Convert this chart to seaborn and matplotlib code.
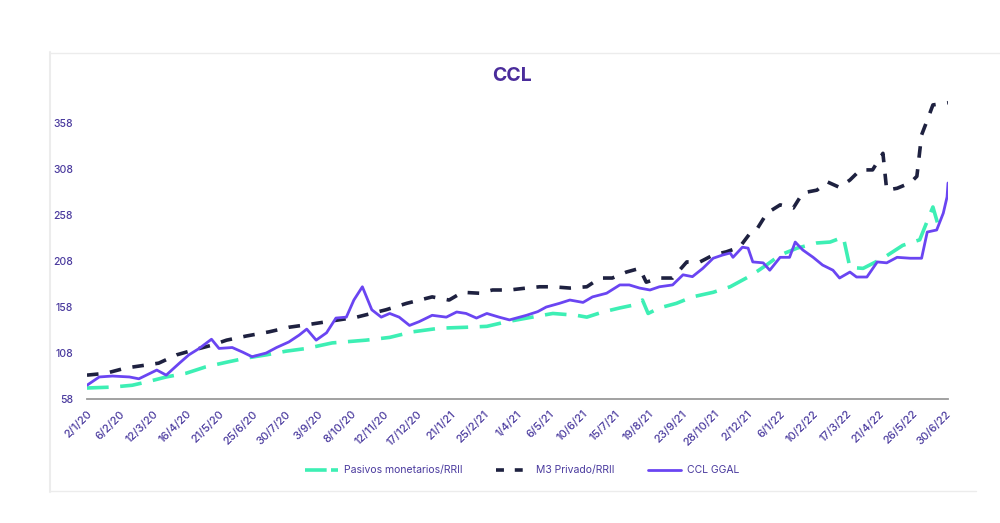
import matplotlib
matplotlib.use("Agg")
import matplotlib.pyplot as plt
from matplotlib.lines import Line2D
import pandas as pd
import seaborn as sns

# ---------------- data ----------------
ccl_dates = ["2020-01-02","2020-01-15","2020-01-29","2020-02-16","2020-02-26","2020-03-05",
             "2020-03-16","2020-03-26","2020-04-09","2020-04-19","2020-04-30","2020-05-13",
             "2020-05-21","2020-06-04","2020-06-15","2020-06-25","2020-07-10","2020-07-21",
             "2020-08-03","2020-08-14","2020-08-22","2020-09-01","2020-09-12","2020-09-22",
             "2020-10-03","2020-10-11","2020-10-20","2020-10-30","2020-11-09","2020-11-18",
             "2020-11-28","2020-12-09","2020-12-19","2021-01-02","2021-01-17","2021-01-28",
             "2021-02-07","2021-02-18","2021-03-01","2021-03-14","2021-03-25","2021-04-12",
             "2021-04-24","2021-05-03","2021-05-17","2021-05-28","2021-06-11","2021-06-21",
             "2021-07-06","2021-07-20","2021-07-30","2021-08-10","2021-08-21","2021-08-31",
             "2021-09-14","2021-09-25","2021-10-05","2021-10-16","2021-10-27","2021-11-06",
             "2021-11-14","2021-11-17","2021-11-27","2021-12-03","2021-12-08","2021-12-19",
             "2021-12-26","2022-01-06","2022-01-16","2022-01-22","2022-01-30","2022-02-10",
             "2022-02-20","2022-03-03","2022-03-10","2022-03-21","2022-03-28","2022-04-08",
             "2022-04-19","2022-04-29","2022-05-10","2022-05-24","2022-06-05","2022-06-11",
             "2022-06-21","2022-06-28","2022-07-02","2022-07-03"]
ccl_values = [73, 82, 83, 82, 80, 84,
              89.5, 84, 97, 106, 113, 123,
              113, 114, 109, 104, 108, 114,
              120, 127.5, 134, 122, 130, 146,
              147, 165.6, 180, 155, 147, 151,
              147, 138, 142, 149, 147, 152.6,
              151, 146, 151, 147, 144, 149,
              153, 158, 162, 165.6, 163, 169,
              173, 182, 182, 178.6, 176.5, 180,
              182, 193, 191, 200, 211, 214.5,
              216.7, 212, 223, 222, 207, 206,
              198, 212, 212, 228.6, 220, 212,
              203.6, 198, 189.5, 196, 190.6, 190.6,
              207, 206, 212, 211, 211, 239.5,
              241.7, 260, 277.6, 292.8]

pas_dates = ["2020-01-02","2020-01-29","2020-02-19","2020-03-05","2020-03-26","2020-04-16",
             "2020-05-07","2020-05-29","2020-06-19","2020-07-10","2020-07-31","2020-08-22",
             "2020-09-18","2020-10-24","2020-11-18","2020-12-12","2021-01-10","2021-02-07",
             "2021-03-01","2021-03-22","2021-04-18","2021-05-10","2021-06-04","2021-06-15",
             "2021-07-02","2021-07-20","2021-08-03","2021-08-13","2021-08-19","2021-08-31",
             "2021-09-18","2021-10-05","2021-10-27","2021-11-14","2021-12-02","2021-12-13",
             "2021-12-23","2022-01-06","2022-01-24","2022-02-14","2022-02-28","2022-03-14",
             "2022-03-21","2022-04-04","2022-04-25","2022-05-16","2022-06-03","2022-06-17",
             "2022-06-22","2022-06-30"]
pas_values = [70, 71, 73, 76.5, 82, 86,
              93, 98, 102.6, 106, 110, 113,
              119, 122, 125, 131, 135, 136,
              137, 142, 147, 151, 149, 147,
              152.6, 157, 160, 165.6, 151, 157,
              162, 169, 174, 180, 190, 197,
              204, 214.5, 222, 227.6, 228.6, 234,
              201, 200, 211, 225, 231, 266.7,
              249, 256]

m3_dates = ["2020-01-02","2020-01-22","2020-02-12","2020-03-05","2020-03-18","2020-04-06",
            "2020-04-23","2020-05-14","2020-05-29","2020-06-19","2020-07-13","2020-08-03",
            "2020-08-24","2020-09-12","2020-10-14","2020-11-14","2020-12-06","2021-01-02",
            "2021-01-20","2021-02-03","2021-02-21","2021-03-07","2021-03-25","2021-04-12",
            "2021-04-26","2021-05-10","2021-05-28","2021-06-15","2021-06-29","2021-07-12",
            "2021-07-27","2021-08-10","2021-08-17","2021-08-31","2021-09-14","2021-09-29",
            "2021-10-13","2021-10-27","2021-11-10","2021-11-24","2021-12-05","2021-12-12",
            "2021-12-23","2022-01-06","2022-01-20","2022-01-30","2022-02-14","2022-02-25",
            "2022-03-10","2022-03-21","2022-04-01","2022-04-14","2022-04-25","2022-04-29",
            "2022-05-10","2022-05-24","2022-05-31","2022-06-05","2022-06-11","2022-06-17",
            "2022-07-03"]
m3_values = [84, 86, 91.7, 95, 97, 106,
             111, 116.7, 122, 126.5, 131, 136,
             139, 142, 147, 155, 162, 169,
             165.6, 174, 173, 176.5, 176.5, 178.6,
             180, 180, 178.6, 180, 189.5, 189.5,
             196, 200, 185, 189.5, 189.5, 207,
             207, 214.5, 218, 223, 238, 242,
             260, 269, 265.6, 282, 285, 294,
             288, 296, 307, 307, 325, 285,
             287, 293, 300, 345, 361, 377.6,
             380]

tick_dates = ["2020-01-02","2020-02-06","2020-03-12","2020-04-16","2020-05-21","2020-06-25",
              "2020-07-30","2020-09-03","2020-10-08","2020-11-12","2020-12-17","2021-01-21",
              "2021-02-25","2021-04-01","2021-05-06","2021-06-10","2021-07-15","2021-08-19",
              "2021-09-23","2021-10-28","2021-12-02","2022-01-06","2022-02-10","2022-03-17",
              "2022-04-21","2022-05-26","2022-06-30"]
y_ticks = [58, 108, 158, 208, 258, 308, 358]

series_labels = ["Pasivos monetarios/RRII", "M3 Privado/RRII", "CCL GGAL"]
title_text = "CCL"

# ---------------- styling ----------------
sns.set_theme(style="white")
plt.rcParams["font.family"] = ["Inter", "DejaVu Sans"]

c_green = "#3DEFB4"
c_navy = "#1E2140"
c_purple = "#6A45F2"
c_text = "#4A3A9E"

df_ccl = pd.DataFrame({"date": pd.to_datetime(ccl_dates), "value": ccl_values})
df_pas = pd.DataFrame({"date": pd.to_datetime(pas_dates), "value": pas_values})
df_m3 = pd.DataFrame({"date": pd.to_datetime(m3_dates), "value": m3_values})

fig = plt.figure(figsize=(10, 5.23), dpi=100)
fig.patch.set_facecolor("white")
ax = fig.add_axes([0.087, 0.237, 0.861, 0.593])

sns.lineplot(data=df_pas, x="date", y="value", ax=ax, color=c_green, linewidth=2.6,
             label=series_labels[0])
ax.lines[-1].set_dashes((6, 3.2))
sns.lineplot(data=df_m3, x="date", y="value", ax=ax, color=c_navy, linewidth=2.6,
             label=series_labels[1])
ax.lines[-1].set_dashes((3.2, 3.2))
sns.lineplot(data=df_ccl, x="date", y="value", ax=ax, color=c_purple, linewidth=2.0,
             label=series_labels[2])

ax.set_xlim(pd.Timestamp("2020-01-02"), pd.Timestamp("2022-07-03"))
ax.set_ylim(58, 395)
ax.set_xlabel("")
ax.set_ylabel("")

ticks = pd.to_datetime(tick_dates)
ax.set_xticks(ticks)
ax.set_xticklabels([f"{d.day}/{d.month}/{d.year % 100}" for d in ticks],
                   rotation=45, ha="right", rotation_mode="anchor",
                   fontsize=8, color=c_text, fontweight="medium")
ax.set_yticks(y_ticks)
ax.set_yticklabels([str(v) for v in y_ticks], fontsize=7.5, color=c_text,
                   fontweight="medium")
ax.tick_params(axis="x", length=0, pad=7)
ax.tick_params(axis="y", length=0, pad=10)

for s in ["top", "right", "left"]:
    ax.spines[s].set_visible(False)
ax.spines["bottom"].set_color("#9a9a9a")
ax.spines["bottom"].set_linewidth(1.3)
ax.grid(False)

ax.get_legend().remove()
handles = [
    Line2D([0], [0], color=c_green, linewidth=2.6, dashes=(6, 1.2)),
    Line2D([0], [0], color=c_navy, linewidth=2.6, dashes=(2.2, 3.0)),
    Line2D([0], [0], color=c_purple, linewidth=2.0),
]
fig.legend(handles, series_labels, loc="center", bbox_to_anchor=(0.522, 0.101),
           ncol=3, frameon=False, fontsize=7.5, labelcolor=c_text,
           handlelength=3.2, columnspacing=3.2, handletextpad=0.6)

fig.text(0.512, 0.855, title_text, ha="center", va="center", fontsize=14,
         fontweight="bold", color="#4A2C9B")

# card border
border_color = "#ececec"
fig.add_artist(Line2D([0.050, 0.050], [0.060, 0.900], color=border_color, lw=1.5,
                      transform=fig.transFigure))
fig.add_artist(Line2D([0.050, 1.0], [0.899, 0.899], color=border_color, lw=1.0,
                      transform=fig.transFigure))
fig.add_artist(Line2D([0.050, 0.976], [0.061, 0.061], color=border_color, lw=1.0,
                      transform=fig.transFigure))

fig.savefig("out.png", dpi=100, facecolor="white")
